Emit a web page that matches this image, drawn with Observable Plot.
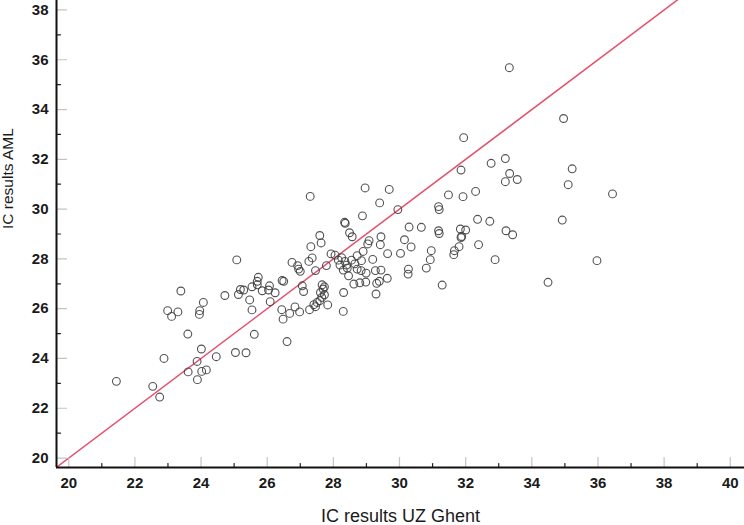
<!DOCTYPE html>
<html>
<head>
<meta charset="utf-8">
<script src="https://cdn.jsdelivr.net/npm/d3@7"></script>
<script src="https://cdn.jsdelivr.net/npm/@observablehq/plot@0.6"></script>
<style>
  html, body { margin: 0; padding: 0; background: #fff; }
  #chart svg { display: block; }
</style>
</head>
<body>
<div id="chart"></div>
<script>
// IC results UZ Ghent (x) vs IC results AML (y)
const uzGhent = [
  21.44,22.54,22.75,22.88,23.60,23.61,23.88,24.01,23.89,24.02,24.16,24.46,25.04,25.36,
  23.39,22.99,23.11,23.30,23.96,23.95,24.07,24.72,25.08,25.13,25.19,25.29,25.47,25.54,25.54,25.73,25.70,25.70,25.61,
  25.85,26.04,26.07,26.24,26.09,26.45,26.50,26.44,26.48,26.68,26.84,26.98,26.75,26.92,26.95,27.00,26.60,
  27.30,28.96,29.69,29.40,28.88,29.95,28.34,28.36,28.49,28.57,27.59,27.63,27.32,27.93,29.08,29.04,29.44,29.42,28.90,28.72,
  29.19,29.64,30.03,30.15,30.35,30.29,30.66,31.18,31.20,31.48,31.92,31.86,32.30,31.18,31.20,31.84,31.86,32.00,32.36,32.39,
  31.80,31.66,31.64,30.96,30.93,30.81,30.27,30.26,31.29,29.44,29.27,29.63,29.39,29.31,29.29,28.85,28.72,28.84,28.99,28.98,
  28.80,28.62,28.46,28.42,28.30,
  27.26,27.36,27.46,27.79,27.06,27.10,
  27.66,27.73,27.69,27.61,27.73,27.65,27.59,27.51,27.41,27.28,27.46,27.83,28.31,28.30,
  28.05,28.15,28.25,28.35,28.20,28.40,28.55,28.65,
  34.96,31.94,35.22,35.10,36.44,32.77,33.20,33.33,33.56,33.20,31.88,32.73,33.22,33.42,32.89,34.92,35.97,34.49,33.32
];
const aml = [
  23.08,22.88,22.45,24.00,24.98,23.46,23.88,24.38,23.15,23.48,23.54,24.07,24.24,24.23,
  26.71,25.92,25.69,25.87,25.92,25.77,26.25,26.53,27.96,26.57,26.77,26.75,26.35,25.95,26.88,27.26,27.10,26.96,24.97,
  26.72,26.75,26.92,26.64,26.28,27.13,27.10,25.96,25.58,25.81,26.07,25.87,27.86,27.73,27.59,27.50,24.68,
  30.51,30.85,30.79,30.25,29.73,29.98,29.47,29.43,29.05,28.89,28.94,28.64,28.49,28.20,28.73,28.60,28.89,28.57,28.30,28.13,
  27.98,28.21,28.22,28.77,28.48,29.28,29.27,30.10,29.98,30.57,30.50,31.57,30.71,29.13,29.02,29.20,28.86,29.16,29.59,28.57,
  28.49,28.33,28.17,28.33,27.97,27.63,27.59,27.39,26.95,27.55,27.53,27.22,27.10,27.02,26.59,27.93,27.59,27.53,27.43,27.07,
  27.04,26.99,27.32,27.63,27.55,
  27.90,28.04,27.53,27.73,26.92,26.69,
  26.96,26.88,26.79,26.65,26.56,26.45,26.32,26.25,26.16,25.96,26.08,26.15,26.65,25.89,
  28.15,27.95,28.05,27.90,27.75,27.75,27.95,27.80,
  33.64,32.87,31.62,30.98,30.61,31.84,32.03,31.43,31.19,31.10,28.90,29.51,29.13,28.97,27.97,29.56,27.93,27.06,35.68
];

const xDomain = [19.63, 40.43];
const yDomain = [19.62, 38.38];
const xMajorTicks = [20, 22, 24, 26, 28, 30, 32, 34, 36, 38, 40];
const xMinorTicks = [21, 23, 25, 27, 29, 31, 33, 35, 37, 39];
const yMajorTicks = [20, 22, 24, 26, 28, 30, 32, 34, 36, 38];
const yMinorTicks = [21, 23, 25, 27, 29, 31, 33, 35, 37];
const identityLine = [19, 41];
const xTitle = "IC results UZ Ghent";
const yTitle = "IC results AML";

const points = uzGhent.map((x, i) => ({x, y: aml[i]}));
const spike = { draw(ctx, l) { ctx.moveTo(0, 0); ctx.lineTo(0, -l); } };
const font = "Liberation Sans, Arial, Helvetica, sans-serif";

const chart = Plot.plot({
  width: 744,
  height: 525,
  marginLeft: 56,
  marginRight: 0,
  marginTop: 0,
  marginBottom: 58,
  style: { fontFamily: font, background: "#fff", color: "#1a1a1a" },
  x: { domain: xDomain, axis: null },
  y: { domain: yDomain, axis: null },
  marks: [
    Plot.line(identityLine.map(v => ({x: v, y: v})), {x: "x", y: "y", stroke: "#e5506e", strokeWidth: 1.5, clip: true}),
    Plot.dot(points, {x: "x", y: "y", r: 3.9, stroke: "#3f3f3f", strokeWidth: 1.1, fill: "none", strokeOpacity: 0.9}),
    // inward tick marks
    Plot.vector(xMajorTicks, {x: d => d, frameAnchor: "bottom", length: 10, rotate: 0, anchor: "start", shape: spike, stroke: "#c4c4c4", strokeWidth: 1.2}),
    Plot.vector(xMinorTicks, {x: d => d, frameAnchor: "bottom", length: 4, rotate: 0, anchor: "start", shape: spike, stroke: "#222", strokeWidth: 1.2}),
    Plot.vector(yMajorTicks, {y: d => d, frameAnchor: "left", length: 10, rotate: 90, anchor: "start", shape: spike, stroke: "#c4c4c4", strokeWidth: 1.2}),
    Plot.vector(yMinorTicks, {y: d => d, frameAnchor: "left", length: 4, rotate: 90, anchor: "start", shape: spike, stroke: "#222", strokeWidth: 1.2}),
    // axis lines
    Plot.ruleX([xDomain[0]], {stroke: "#111", strokeWidth: 2}),
    Plot.ruleY([yDomain[0]], {stroke: "#111", strokeWidth: 2}),
    // tick labels
    Plot.axisX({ticks: xMajorTicks, tickSize: 0, tickPadding: 10, fontSize: 15, fontWeight: "bold", label: null, tickFormat: d => d}),
    Plot.axisY({ticks: yMajorTicks, tickSize: 0, tickPadding: 8, fontSize: 15, fontWeight: "bold", label: null, tickFormat: d => d}),
    // axis titles
    Plot.text([xTitle], {text: d => d, frameAnchor: "bottom", dy: 54, fontSize: 18, fill: "#1a1a1a"}),
    Plot.text([yTitle], {text: d => d, frameAnchor: "left", rotate: -90, dx: -48, dy: -5, fontSize: 15.5, fill: "#1a1a1a"})
  ]
});
document.getElementById("chart").append(chart);
</script>
</body>
</html>
